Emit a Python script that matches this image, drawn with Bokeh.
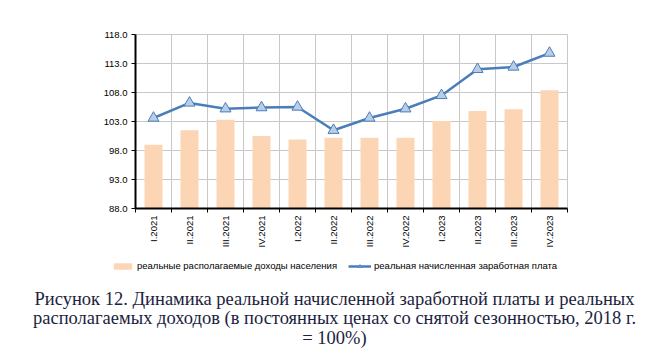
from bokeh.plotting import figure
from bokeh.models import (Range1d, FixedTicker, PrintfTickFormatter, Legend, LegendItem,
                          Label, ColumnDataSource)
from bokeh.embed import file_html
from bokeh.resources import INLINE
import math

categories = ["I.2021", "II.2021", "III.2021", "IV.2021", "I.2022", "II.2022",
              "III.2022", "IV.2022", "I.2023", "II.2023", "III.2023", "IV.2023"]
income = [99.0, 101.5, 103.3, 100.5, 99.9, 100.2, 100.2, 100.2, 103.1, 104.8, 105.1, 108.4]
wage = [103.6, 106.2, 105.2, 105.4, 105.5, 101.5, 103.6, 105.2, 107.5, 112.0, 112.4, 114.8]
y_ticks = [88, 93, 98, 103, 108, 113, 118]
income_label = "реальные располагаемые доходы населения"
wage_label = "реальная начисленная заработная плата"
caption_lines = [
    "Рисунок 12. Динамика реальной начисленной заработной платы и реальных",
    "располагаемых доходов (в постоянных ценах со снятой сезонностью, 2018 г.",
    "= 100%)",
]

BAR_COLOR = "#fcd5b5"
LINE_COLOR = "#4a7ebb"
MARK_FILL = "#b9cde5"
FONT = "Liberation Sans"
W = 656

xs = [i + 0.5 for i in range(len(categories))]
bounds = list(range(len(categories) + 1))
src = ColumnDataSource(dict(x=xs, income=income, wage=wage))

p = figure(width=W, height=258, output_backend="svg", toolbar_location=None,
           x_range=Range1d(0, len(categories)), y_range=Range1d(88, 118),
           min_border_left=135, min_border_top=34, min_border_right=89, min_border_bottom=50)
p.background_fill_color = "white"
p.border_fill_color = "white"
p.outline_line_color = "#c8c8c8"

p.yaxis.ticker = FixedTicker(ticks=y_ticks)
p.yaxis.formatter = PrintfTickFormatter(format="%.1f")
p.yaxis.axis_line_color = "black"
p.yaxis.axis_line_width = 2
p.yaxis.major_tick_line_color = "black"
p.yaxis.major_tick_out = 4
p.yaxis.major_tick_in = 0
p.yaxis.minor_tick_line_color = None
p.yaxis.major_label_text_font = FONT
p.yaxis.major_label_text_font_size = "9.5px"
p.yaxis.major_label_text_color = "black"
p.yaxis.major_label_standoff = 4

p.xaxis.ticker = FixedTicker(ticks=xs, minor_ticks=bounds)
p.xaxis.major_label_overrides = {x: c for x, c in zip(xs, categories)}
p.xaxis.major_label_orientation = math.pi / 2
p.xaxis.axis_line_color = "black"
p.xaxis.axis_line_width = 2
p.xaxis.major_tick_line_color = None
p.xaxis.minor_tick_line_color = "black"
p.xaxis.minor_tick_out = 4
p.xaxis.minor_tick_in = 0
p.xaxis.major_label_text_font = FONT
p.xaxis.major_label_text_font_size = "9.5px"
p.xaxis.major_label_text_color = "black"
p.xaxis.major_label_standoff = 1

p.ygrid.grid_line_color = "#c8c8c8"
p.ygrid.grid_line_width = 1
p.xgrid.grid_line_color = None
p.xgrid.minor_grid_line_color = "#c8c8c8"
p.xgrid.minor_grid_line_width = 1

p.vbar(x="x", top="income", bottom=88, width=0.5, source=src,
       fill_color=BAR_COLOR, line_color=None)
p.line(x="x", y="wage", source=src, line_color=LINE_COLOR, line_width=2.5)
p.scatter(x="x", y="wage", source=src, marker="triangle", size=11,
          fill_color=MARK_FILL, line_color=LINE_COLOR, line_width=1)

# lower panel: legend + caption
H2 = 90
q = figure(width=W, height=H2, output_backend="svg", toolbar_location=None,
           x_range=Range1d(0, W), y_range=Range1d(H2, 0),
           x_axis_location=None, y_axis_location=None,
           min_border=0, min_border_left=0, min_border_right=0,
           min_border_top=0, min_border_bottom=0)
q.outline_line_color = None
q.grid.visible = False
q.background_fill_color = "white"
q.border_fill_color = "white"

# legend proxies (no visible data, NaN entries so the legend can draw the key glyphs)
nan = float("nan")
lb = q.vbar(x=[nan], top=[nan], bottom=[nan], width=1, fill_color=BAR_COLOR, line_color=None)
ll = q.line(x=[nan, nan], y=[nan, nan], line_color=LINE_COLOR, line_width=2.5)
lm = q.scatter(x=[nan], y=[nan], marker="triangle", fill_color=MARK_FILL,
               line_color=LINE_COLOR, line_width=1)

legend = Legend(items=[LegendItem(label=income_label, renderers=[lb]),
                       LegendItem(label=wage_label, renderers=[ll, lm])],
                orientation="horizontal", location=(111, H2 - 13),
                padding=0, margin=0, spacing=11, label_standoff=3,
                glyph_width=23, glyph_height=8,
                background_fill_alpha=0, border_line_color=None,
                label_text_font=FONT, label_text_font_size="9.5px",
                label_text_color="black", label_height=10)
q.add_layout(legend, "center")

for i, line in enumerate(caption_lines):
    q.add_layout(Label(x=334, y=40 + 19.5 * i,
                       text=line, text_align="center", text_baseline="middle",
                       text_font="Liberation Serif", text_font_size="18.5px",
                       text_color="#1c2340"))

open("out.html", "w").write(file_html([p, q], INLINE))
